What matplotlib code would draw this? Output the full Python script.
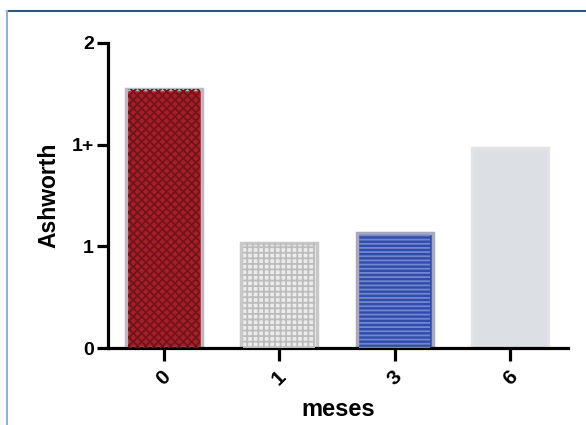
import matplotlib
matplotlib.use("Agg")
import matplotlib.pyplot as plt
from matplotlib.lines import Line2D

plt.rc('font', family=['Liberation Sans', 'DejaVu Sans'], weight='bold')
plt.rcParams['hatch.linewidth'] = 1.3

months = ['0', '1', '3', '6']
ashworth = [2.55, 1.03, 1.13, 1.97]
ytick_vals = [0, 1, 2, 3]
ytick_labels = ['0', '1', '1+', '2']

face_colors = ['#a3202a', '#ececec', '#2f4bac', '#dcdfe3']
hatch_colors = ['#761219', '#bcbcbc', '#7487cc', '#dcdfe3']
hatches = ['xxxx', '+++', '----', None]
edge_colors = ['#b9b9c2', '#c8c8c8', '#a9a9bd', '#e3e3e3']

fig = plt.figure(figsize=(5.86, 4.25), dpi=100)
ax = fig.add_axes([0.184, 0.181, 0.785, 0.718])

pos = range(len(months))
ax.bar(pos, ashworth, width=0.66, color=face_colors, edgecolor=edge_colors,
       linewidth=2.5, zorder=2)
for x, v, hc, h in zip(pos, ashworth, hatch_colors, hatches):
    if h:
        ax.bar(x, v, width=0.62, color='none', edgecolor=hc, hatch=h,
               linewidth=0, zorder=3)

ax.set_xlim(-0.485, 3.5)
ax.set_ylim(0, 3)
ax.set_yticks(ytick_vals)
ax.set_yticklabels(ytick_labels, fontsize=14, fontweight='bold')
ax.set_xticks(list(pos))
ax.set_xticklabels(months, fontsize=15, fontweight='bold', rotation=45,
                   ha='center')

for s in ['top', 'right']:
    ax.spines[s].set_visible(False)
for s in ['left', 'bottom']:
    ax.spines[s].set_linewidth(2.3)
ax.tick_params(axis='y', length=8, width=2.3, pad=2)
ax.tick_params(axis='x', length=9, width=2.3, pad=5)

ax.set_ylabel('Ashworth', fontsize=16.5, fontweight='bold', labelpad=8)
ax.set_xlabel('meses', fontsize=17, fontweight='bold', labelpad=6)

# frame around the figure
fig.add_artist(Line2D([7/586, 1], [1 - 11/425, 1 - 11/425],
                      transform=fig.transFigure, color='#2a5a80', lw=1.5))
fig.add_artist(Line2D([7/586, 7/586], [0, 1 - 11/425],
                      transform=fig.transFigure, color='#8cb4cc', lw=1.5))

fig.savefig('out.png', dpi=100)
